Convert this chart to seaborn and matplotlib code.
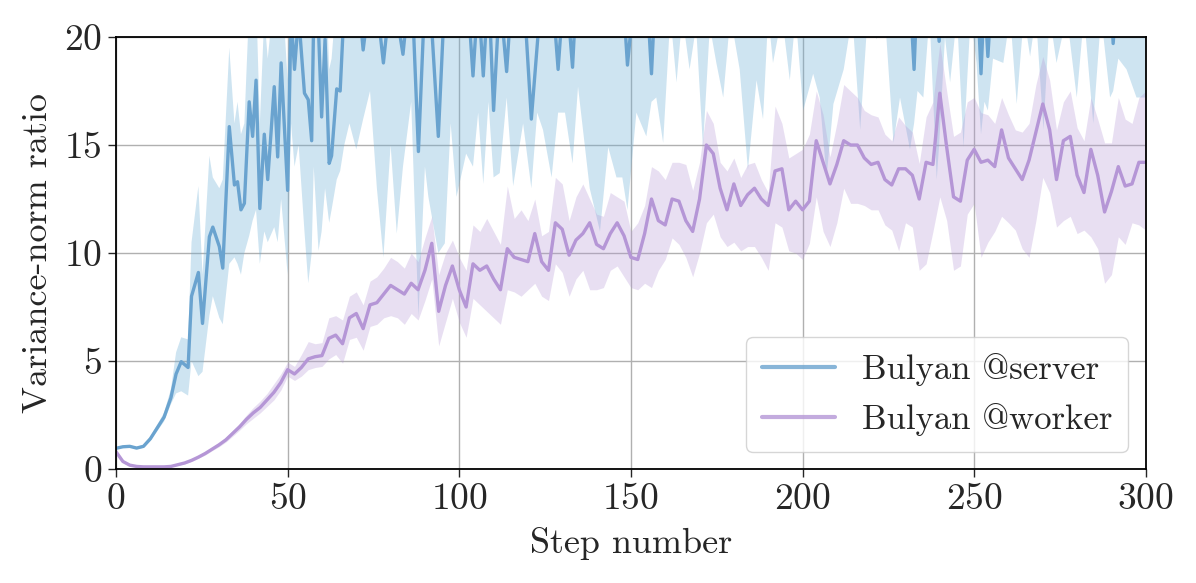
import numpy as np
import pandas as pd
import seaborn as sns
import matplotlib
matplotlib.use("Agg")
import matplotlib.pyplot as plt

# ---- data ---------------------------------------------------------------
# Bulyan @worker : every 2 steps
worker_step = list(range(0, 301, 2))
worker_mean = [
    0.8, 0.35, 0.18, 0.12, 0.1, 0.1, 0.1, 0.1, 0.12, 0.2,
    0.28, 0.4, 0.55, 0.72, 0.92, 1.12, 1.35, 1.65, 1.95, 2.3,
    2.6, 2.85, 3.2, 3.55, 4.0, 4.6, 4.4, 4.7, 5.1, 5.2,
    5.25, 6.05, 6.2, 5.8, 7.0, 7.2, 6.5, 7.6, 7.7, 8.1,
    8.5, 8.3, 8.1, 8.6, 8.3, 9.2, 10.45, 7.3, 8.5, 9.4,
    8.3, 7.5, 9.5, 9.2, 9.4, 8.8, 8.3, 10.2, 9.8, 9.7,
    9.6, 10.9, 9.6, 9.2, 11.4, 11.1, 9.9, 10.6, 10.9, 11.4,
    10.4, 10.2, 10.9, 11.4, 10.8, 9.8, 9.7, 10.9, 12.5, 11.5,
    11.3, 12.5, 12.4, 11.5, 11.0, 12.5, 15.0, 14.6, 13.0, 12.0,
    13.2, 12.2, 12.7, 13.0, 12.5, 12.2, 13.8, 13.9, 12.0, 12.4,
    12.0, 12.4, 15.2, 14.2, 13.2, 14.1, 15.2, 15.0, 15.0, 14.4,
    14.1, 14.2, 13.4, 13.15, 13.9, 13.9, 13.6, 12.5, 14.2, 14.1,
    17.4, 14.9, 12.6, 12.4, 14.3, 14.8, 14.2, 14.3, 14.0, 15.7,
    14.4, 13.9, 13.4, 14.3, 15.6, 16.9, 15.7, 13.4, 15.2, 15.4,
    13.6, 12.8, 14.8, 13.6, 11.9, 12.85, 14.0, 13.1, 13.2, 14.2,
    14.2,
]
worker_lo = [
    0.75, 0.3, 0.14, 0.09, 0.08, 0.08, 0.08, 0.08, 0.1, 0.17,
    0.24, 0.35, 0.5, 0.65, 0.85, 1.03, 1.25, 1.52, 1.8, 2.1,
    2.35, 2.6, 2.9, 3.2, 3.65, 4.3, 4.1, 4.3, 4.6, 4.7,
    4.75, 5.1, 5.3, 4.9, 6.0, 6.1, 5.5, 6.6, 6.7, 7.0,
    7.1, 7.0, 6.7, 7.2, 6.9, 7.8, 8.8, 5.7, 6.8, 7.9,
    6.8, 6.1, 7.9, 7.6, 7.3, 7.0, 6.7, 8.3, 8.2, 8.0,
    8.3, 8.6, 8.0, 7.8, 9.5, 9.1, 8.0, 8.8, 9.2, 8.3,
    8.3, 8.4, 9.2, 9.4, 8.9, 8.4, 8.3, 8.6, 8.4, 9.2,
    9.7, 10.7, 10.4, 9.8, 8.9, 10.0, 11.4, 11.8, 10.75, 10.3,
    10.5, 10.1, 10.3, 10.3, 9.8, 9.2, 11.4, 11.2, 10.1, 10.0,
    9.7, 10.45, 12.6, 11.0, 10.3, 11.4, 13.0, 12.3, 12.3, 12.2,
    12.0, 12.0, 11.3, 11.06, 10.1, 11.4, 11.2, 9.2, 9.5, 11.0,
    12.6, 11.5, 9.2, 9.4, 11.8, 12.3, 9.8, 10.5, 11.0, 11.7,
    11.4, 11.06, 10.2, 9.8, 11.5, 13.5, 12.8, 11.2, 11.5, 11.7,
    10.9, 11.06, 10.75, 10.2, 8.6, 9.0, 10.75, 10.4, 11.4, 11.3,
    11.06,
]
worker_hi = [
    0.85, 0.42, 0.22, 0.15, 0.13, 0.12, 0.12, 0.13, 0.15, 0.24,
    0.33, 0.46, 0.62, 0.8, 1.0, 1.22, 1.47, 1.8, 2.12, 2.5,
    2.85, 3.15, 3.5, 3.95, 4.4, 4.95, 4.75, 5.3, 5.9, 5.8,
    5.85, 7.0, 7.1, 6.9, 8.0, 8.2, 7.6, 8.7, 8.9, 9.3,
    9.8, 9.6, 9.3, 10.0, 9.6, 10.7, 11.7, 9.0, 10.0, 10.6,
    9.8, 9.2, 11.3, 11.0, 11.6, 11.0, 10.4, 13.1, 11.6, 12.0,
    11.5, 12.5, 10.8, 11.0, 13.5, 13.2, 11.5, 12.6, 13.2, 12.5,
    11.8, 11.7, 12.8, 12.6, 12.4, 11.0, 11.4, 12.2, 14.0, 13.8,
    13.4, 14.2, 14.2, 14.1, 12.9, 14.2, 16.6, 16.0, 14.2, 13.8,
    14.4, 13.5, 14.1, 14.2, 13.4, 12.8, 16.8, 16.0, 14.4, 14.6,
    14.8, 15.5, 17.5, 16.4, 14.45, 16.0, 17.8, 17.5, 17.2, 16.6,
    16.4, 16.3, 15.5, 15.2, 16.3, 15.9, 15.6, 14.15, 16.3, 17.0,
    19.7, 17.5, 15.4, 15.6, 17.0, 17.2, 16.5, 16.4, 16.0, 17.2,
    16.4, 15.7, 15.6, 16.0, 17.8, 19.1, 18.0, 15.7, 17.0, 17.5,
    15.8, 15.2, 17.2, 16.2, 15.1, 15.1, 17.2, 16.2, 16.0, 17.2,
    17.5,
]

# Bulyan @server : irregular steps (spiky series, mostly above the 20 cap)
server_step = [
    0, 2, 4, 6, 8, 10, 12, 14, 16, 17.5,
    19, 21, 22, 24, 25.2, 27.2, 28.2, 30.1, 31.1, 33,
    34.5, 35.4, 36.4, 37.4, 38.8, 39.8, 40.8, 41.9, 43.2, 44.2,
    46.1, 47.1, 48.1, 50, 51, 52, 53.2, 54.9, 56, 57,
    57.6, 59, 59.9, 60.9, 62.1, 62.8, 64.3, 65.3, 66.5, 68,
    70, 72, 74, 76, 77.9, 80, 81.8, 83.6, 86, 88.1,
    90, 91, 93.9, 95.8, 97.5, 99.2, 102, 104, 105.5, 107,
    108.5, 110, 111.8, 113.8, 115.7, 118.6, 121, 122.7, 124.4, 126.9,
    128.8, 130.8, 133, 134.6, 138, 141, 143.4, 145.8, 147.5, 149,
    151.6, 154.5, 156, 157.4, 159.4, 161.5, 163.3, 165, 167.1, 169,
    171, 173, 174.9, 176.9, 179, 181.7, 184.1, 186.6, 188.5, 190,
    191.4, 194, 196.3, 198, 200.2, 203.1, 205, 207, 209, 212,
    214.5, 216.8, 219, 221.6, 224, 226.5, 228.4, 231.3, 232.5, 233.5,
    235.2, 237, 239.1, 239.8, 241.5, 243, 245, 246.9, 249, 250.7,
    252, 253, 254, 255.5, 258.5, 260.5, 262.4, 264.5, 266.3, 268,
    270.2, 272, 274, 277, 279.9, 282, 284.7, 287, 289.6, 290.5,
    292, 294.4, 297.3, 300,
]
server_mean = [
    0.96, 1.03, 1.05, 0.97, 1.05, 1.4, 1.9, 2.4, 3.3, 4.4,
    4.97, 4.7, 8.0, 9.1, 6.74, 10.75, 11.2, 10.3, 9.3, 15.85,
    13.15, 13.3, 12.0, 12.3, 17.0, 15.4, 18.0, 12.06, 15.5, 13.4,
    17.7, 14.45, 18.8, 12.9, 21.0, 18.5, 21.0, 17.4, 17.1, 15.2,
    21.0, 20.3, 16.3, 19.9, 14.15, 14.5, 17.6, 17.5, 21.5, 22.5,
    23.0, 19.4, 22.0, 21.5, 18.8, 22.0, 21.0, 19.2, 23.0, 14.7,
    22.0, 23.0, 15.4, 22.0, 23.5, 21.0, 23.0, 18.2, 22.0, 18.2,
    22.5, 16.6, 22.0, 18.4, 23.0, 22.5, 16.2, 19.6, 23.0, 22.5,
    18.5, 23.0, 18.6, 23.5, 22.5, 23.0, 22.0, 23.5, 22.5, 18.7,
    23.0, 22.5, 18.3, 23.0, 22.0, 24.0, 23.0, 24.0, 23.0, 24.0,
    22.5, 24.0, 23.0, 22.5, 24.0, 23.0, 22.0, 23.5, 22.5, 24.0,
    23.0, 24.0, 23.0, 24.0, 22.5, 23.5, 23.0, 22.0, 23.0, 23.5,
    24.0, 22.5, 24.0, 23.5, 24.0, 22.5, 23.0, 22.0, 18.5, 22.5,
    23.0, 24.0, 21.0, 19.8, 23.5, 23.0, 24.0, 22.5, 24.0, 23.0,
    18.3, 22.0, 19.1, 23.0, 23.5, 24.0, 22.5, 24.0, 23.5, 24.0,
    22.0, 24.0, 23.0, 24.0, 22.5, 24.0, 22.0, 24.0, 22.5, 19.7,
    23.0, 23.5, 22.5, 23.0,
]
server_lo = [
    0.93, 1.0, 1.0, 0.92, 0.98, 1.3, 1.75, 2.2, 3.0, 3.5,
    3.6, 3.4, 5.0, 4.3, 4.5, 7.1, 8.0, 7.0, 6.7, 9.5,
    9.8, 9.5, 9.0, 10.0, 10.8, 11.5, 12.0, 9.5, 11.0, 10.5,
    11.2, 10.5, 12.5, 9.0, 16.0, 14.0, 15.0, 11.0, 8.6, 10.0,
    14.0, 10.1, 11.0, 13.0, 11.4, 12.0, 13.4, 13.8, 15.0, 16.0,
    14.8, 16.2, 17.5, 13.0, 9.8, 15.0, 10.9, 14.0, 17.0, 7.05,
    14.0, 12.6, 10.0, 10.45, 16.0, 12.6, 14.6, 14.0, 16.5, 13.2,
    17.0, 13.5, 13.7, 17.2, 13.1, 16.0, 13.0, 16.5, 15.7, 13.5,
    16.5, 16.5, 14.15, 17.7, 13.0, 11.0, 14.9, 13.5, 13.5, 12.0,
    16.5, 15.4, 17.0, 17.2, 15.1, 21.0, 17.9, 21.0, 18.5, 20.5,
    14.9, 20.5, 18.8, 17.2, 21.0, 18.5, 13.85, 18.0, 16.2, 21.0,
    18.8, 21.0, 18.0, 21.0, 16.6, 18.3, 17.2, 13.5, 16.9, 18.5,
    21.0, 15.7, 21.0, 19.9, 21.0, 15.1, 17.2, 14.8, 16.0, 17.5,
    17.2, 21.0, 13.4, 15.0, 20.0, 17.9, 21.0, 14.9, 21.0, 18.8,
    15.5, 17.0, 16.6, 19.0, 18.8, 21.0, 16.9, 21.0, 19.1, 21.0,
    15.7, 21.0, 18.8, 21.0, 17.2, 21.0, 16.0, 21.0, 17.2, 17.5,
    19.0, 18.5, 17.2, 17.2,
]
server_hi = [
    0.99, 1.07, 1.1, 1.03, 1.12, 1.5, 2.05, 2.6, 3.7, 5.4,
    6.1, 6.0, 10.5, 13.1, 9.0, 14.5, 13.5, 13.0, 13.4, 19.5,
    16.0, 17.0, 15.5, 16.0, 21.5, 20.5, 22.0, 16.0, 21.0, 19.0,
    22.0, 20.0, 23.0, 18.0, 25.0, 23.0, 25.0, 22.0, 21.5, 20.5,
    25.0, 25.0, 21.0, 24.0, 18.5, 19.0, 22.0, 22.0, 26.0, 27.0,
    28.0, 24.0, 27.0, 26.0, 23.0, 27.0, 26.0, 24.0, 28.0, 20.5,
    27.0, 28.0, 21.0, 27.0, 28.0, 26.0, 28.0, 23.0, 27.0, 23.0,
    27.0, 21.5, 27.0, 23.0, 28.0, 27.0, 21.0, 24.0, 28.0, 27.0,
    23.0, 28.0, 23.0, 28.0, 27.0, 28.0, 27.0, 28.0, 27.0, 23.0,
    28.0, 27.0, 23.0, 28.0, 27.0, 29.0, 28.0, 29.0, 28.0, 29.0,
    27.0, 29.0, 28.0, 27.0, 29.0, 28.0, 27.0, 28.0, 27.0, 29.0,
    28.0, 29.0, 28.0, 29.0, 27.0, 28.0, 28.0, 27.0, 28.0, 28.0,
    29.0, 27.0, 29.0, 28.0, 29.0, 27.0, 28.0, 27.0, 23.0, 27.0,
    28.0, 29.0, 26.0, 24.0, 28.0, 28.0, 29.0, 27.0, 29.0, 28.0,
    23.0, 27.0, 24.0, 28.0, 28.0, 29.0, 27.0, 29.0, 28.0, 29.0,
    27.0, 29.0, 28.0, 29.0, 27.0, 29.0, 27.0, 29.0, 27.0, 24.0,
    28.0, 28.0, 27.0, 28.0,
]

x_ticks = [0, 50, 100, 150, 200, 250, 300]
y_ticks = [0, 5, 10, 15, 20]

# ---- style -----------------------------------------------------------------
sns.set_style("ticks")
plt.rcParams["font.family"] = ["cmr10", "DejaVu Serif"]
plt.rcParams["mathtext.fontset"] = "cm"
plt.rcParams["axes.formatter.use_mathtext"] = True

fs = 26
server_color = "#6aa3cf"
worker_color = "#b596d6"

server = pd.DataFrame({"step": server_step, "ratio": server_mean})
worker = pd.DataFrame({"step": worker_step, "ratio": worker_mean})

fig, ax = plt.subplots(figsize=(11.96, 5.83), dpi=100)
fig.subplots_adjust(left=0.097, right=0.958, top=0.9365, bottom=0.1955)

ax.fill_between(server_step, server_lo, server_hi, color="#6baed6",
                alpha=0.33, linewidth=0)
ax.fill_between(worker_step, worker_lo, worker_hi, color="#b497d6",
                alpha=0.3, linewidth=0)
sns.lineplot(data=server, x="step", y="ratio", ax=ax, color=server_color,
             linewidth=2.4, label="Bulyan @server")
sns.lineplot(data=worker, x="step", y="ratio", ax=ax, color=worker_color,
             linewidth=2.4, label="Bulyan @worker")

ax.set_xlim(0, 300)
ax.set_ylim(0, 20)
ax.set_xticks(x_ticks)
ax.set_yticks(y_ticks)
ax.set_xlabel("Step number", fontsize=fs, labelpad=8)
ax.set_ylabel("Variance-norm ratio", fontsize=fs, labelpad=7)
ax.tick_params(labelsize=fs + 1, length=6, width=1.0, direction="out", pad=4)
ax.grid(True, color="#b0b0b0", linewidth=1.0)
ax.set_axisbelow(True)
for sp in ax.spines.values():
    sp.set_linewidth(1.3)
    sp.set_color("black")

leg = ax.legend(loc="lower right", fontsize=fs - 1, frameon=True, framealpha=0.8,
                edgecolor="#cccccc", fancybox=True, handlelength=2.1,
                handletextpad=0.8, labelspacing=0.5, borderpad=0.45)
for ln in leg.get_lines():
    ln.set_linewidth(3.0)
    ln.set_alpha(0.8)

fig.savefig("out.png", dpi=100)
